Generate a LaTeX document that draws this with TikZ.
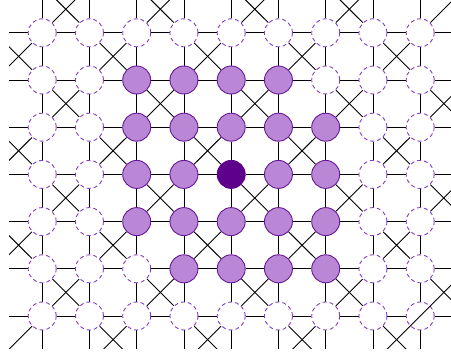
\documentclass[tikz,border=0pt]{standalone}
\usetikzlibrary{calc}
\definecolor{lilac}{RGB}{186,135,214}
\definecolor{rimdark}{RGB}{104,24,150}
\definecolor{deepviolet}{RGB}{94,0,140}
\definecolor{dashviolet}{RGB}{132,60,196}
\pgfdeclarelayer{edges}
\pgfsetlayers{edges,main}
\tikzset{
  edge/.style={draw=black, line width=0.9pt},
  site/.style={circle, minimum size=28pt, inner sep=0pt, line width=0.9pt},
  emptysite/.style={site, draw=dashviolet, fill=white, dash pattern=on 4pt off 3pt},
  fullsite/.style={site, draw=rimdark, fill=lilac},
  centresite/.style={site, draw=deepviolet, fill=deepviolet},
}
\begin{document}
\begin{tikzpicture}[x=1pt,y=-1pt]
\useasboundingbox (0,0) rectangle (451,353);
% sites and outer coordinates
\foreach \i in {0,...,10}{
  \foreach \j in {0,...,8}{
    \pgfmathsetmacro\px{42.2+47.25*(\i-1)}
    \pgfmathsetmacro\py{32.8+47.2*(\j-1)}
    \pgfmathtruncatemacro\inside{(\i>=1 && \i<=9 && \j>=1 && \j<=7)}
    \pgfmathtruncatemacro\full{(\j==2 && \i>=3 && \i<=6) || (\j>=3 && \j<=5 && \i>=3 && \i<=7) || (\j==6 && \i>=4 && \i<=7)}
    \pgfmathtruncatemacro\centre{(\i==5 && \j==4)}
    \ifnum\inside=0
      \coordinate (n-\i-\j) at (\px,\py);
    \else
      \ifnum\centre=1
        \node[centresite] (n-\i-\j) at (\px,\py) {};
      \else
        \ifnum\full=1
          \node[fullsite] (n-\i-\j) at (\px,\py) {};
        \else
          \node[emptysite] (n-\i-\j) at (\px,\py) {};
        \fi
      \fi
    \fi
  }
}
\begin{pgfonlayer}{edges}
\clip (9,0.5) rectangle (452,349);
% horizontal bonds
\foreach \j in {1,...,7}{
  \foreach \i in {0,...,9}{
    \pgfmathtruncatemacro\ii{\i+1}
    \draw[edge] (n-\i-\j) -- (n-\ii-\j);
  }
}
% vertical bonds
\foreach \i in {1,...,9}{
  \foreach \j in {0,...,7}{
    \pgfmathtruncatemacro\jj{\j+1}
    \draw[edge] (n-\i-\j) -- (n-\i-\jj);
  }
}
% diagonal bonds
\foreach \i in {0,...,9}{
  \foreach \j in {0,...,7}{
    \pgfmathtruncatemacro\odd{mod(\i+\j,2)}
    \pgfmathtruncatemacro\ii{\i+1}
    \pgfmathtruncatemacro\jj{\j+1}
    \pgfmathtruncatemacro\skipA{(\i==9 && \j==0) || (\i==0 && \j==7)}
    \pgfmathtruncatemacro\skipB{(\i==8 && \j==7) || (\i==9 && \j==6)}
    \ifnum\odd=1
      \ifnum\skipA=0 \draw[edge] (n-\i-\j) -- (n-\ii-\jj); \fi
      \ifnum\skipB=0 \draw[edge] (n-\ii-\j) -- (n-\i-\jj); \fi
    \fi
  }
}
\end{pgfonlayer}
\begin{scope}
\clip (9,0.5) rectangle (452,349);
\draw[edge] (n-8-8) -- (n-10-6);
\end{scope}
\end{tikzpicture}
\end{document}
